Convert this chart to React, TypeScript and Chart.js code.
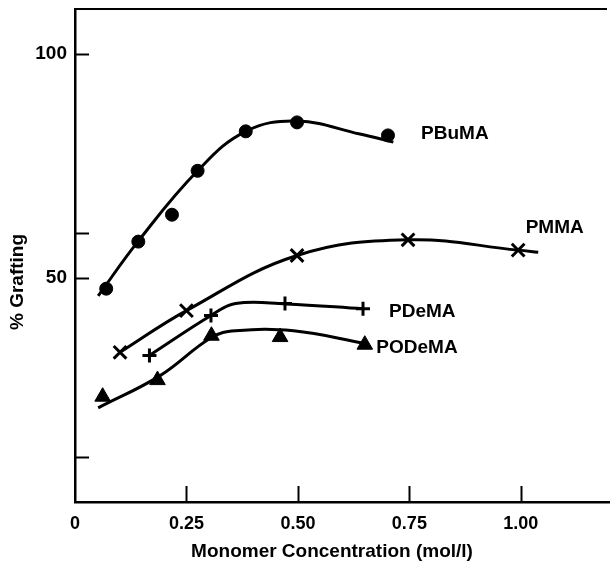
import React, { useEffect, useRef } from "react";
import { Chart, registerables } from "chart.js";

Chart.register(...registerables);

// Axis ticks
const xTickValues = [0, 0.25, 0.5, 0.75, 1.0];
const xTickLabels = ["0", "0.25", "0.50", "0.75", "1.00"];
const yTickValues = [50, 100];
const yTickLabels = ["50", "100"];
const xTickMarks = [0.25, 0.5, 0.75, 1.0];
const yTickMarks = [10, 50, 60, 100];

// Measured points
const pbumaX = [0.07, 0.142, 0.2175, 0.275, 0.383, 0.498, 0.702];
const pbumaY = [47.6, 58.1, 64.1, 73.9, 82.7, 84.7, 81.8];
const pmmaX = [0.101, 0.25, 0.498, 0.747, 0.994];
const pmmaY = [33.4, 42.7, 55.0, 58.5, 56.2];
const pdemaX = [0.167, 0.305, 0.471, 0.646];
const pdemaY = [32.7, 41.6, 44.3, 43.1];
const podemaX = [0.062, 0.185, 0.306, 0.46, 0.65];
const podemaY = [23.5, 27.2, 37.1, 36.8, 35.1];

// Hand-drawn fit curves
const pbumaCurveX = [0.052, 0.141, 0.275, 0.383, 0.498, 0.639, 0.714];
const pbumaCurveY = [46.0, 58.1, 73.9, 82.7, 85.0, 82.1, 80.3];
const pmmaCurveX = [0.101, 0.25, 0.498, 0.747, 0.994, 1.039];
const pmmaCurveY = [33.4, 42.7, 55.0, 58.5, 56.2, 55.7];
const pdemaCurveX = [0.167, 0.305, 0.36, 0.473, 0.646];
const pdemaCurveY = [32.7, 41.6, 44.3, 44.2, 43.1];
const podemaCurveX = [0.052, 0.191, 0.306, 0.36, 0.49, 0.65];
const podemaCurveY = [21.0, 28.2, 36.7, 38.2, 38.2, 35.4];

// Series labels
const labelTexts = ["PBuMA", "PMMA", "PDeMA", "PODeMA"];
const labelX = [0.852, 1.076, 0.779, 0.767];
const labelY = [82.2, 61.2, 42.5, 34.4];

const xTitle = "Monomer Concentration (mol/l)";
const yTitle = "% Grafting";

const FONT = "'Liberation Sans', Arial, Helvetica, sans-serif";

const zip = (xs: number[], ys: number[]) => xs.map((x, i) => ({ x, y: ys[i] }));

const decorPlugin = {
  id: "decor",
  afterDatasetsDraw(chart: any) {
    const { ctx, chartArea, scales } = chart;
    const xs = scales.x;
    const ys = scales.y;
    ctx.save();
    ctx.strokeStyle = "#000";
    ctx.lineWidth = 2;
    // top border
    ctx.beginPath();
    ctx.moveTo(chartArea.left, chartArea.top);
    ctx.lineTo(chartArea.right - 3, chartArea.top);
    ctx.stroke();
    // inward ticks
    xTickMarks.forEach((v) => {
      const px = Math.round(xs.getPixelForValue(v)) + 0.5;
      ctx.beginPath();
      ctx.moveTo(px, chartArea.bottom);
      ctx.lineTo(px, chartArea.bottom - 16);
      ctx.stroke();
    });
    yTickMarks.forEach((v) => {
      const py = Math.round(ys.getPixelForValue(v)) + 0.5;
      ctx.beginPath();
      ctx.moveTo(chartArea.left, py);
      ctx.lineTo(chartArea.left + 14, py);
      ctx.stroke();
    });
    // series labels
    ctx.fillStyle = "#000";
    ctx.font = `bold 19px ${FONT}`;
    ctx.textAlign = "center";
    ctx.textBaseline = "middle";
    labelTexts.forEach((t, i) => {
      ctx.fillText(t, xs.getPixelForValue(labelX[i]), ys.getPixelForValue(labelY[i]));
    });
    // axis titles
    ctx.fillText(xTitle, 332, 552);
    ctx.translate(17.5, 282);
    ctx.rotate(-Math.PI / 2);
    ctx.fillText(yTitle, 0, 0);
    ctx.restore();
  },
};

export default function App() {
  const ref = useRef<HTMLCanvasElement | null>(null);
  useEffect(() => {
    if (!ref.current) return;
    const lineDs = (xs: number[], ys: number[]) => ({
      type: "line" as const,
      data: zip(xs, ys),
      borderColor: "#000",
      borderWidth: 3,
      pointRadius: 0,
      tension: 0.4,
      fill: false,
      order: 2,
    });
    const markDs = (xs: number[], ys: number[], style: string, r: number, bw: number) => ({
      type: "scatter" as const,
      data: zip(xs, ys),
      pointStyle: style,
      pointRadius: r,
      pointBorderWidth: bw,
      pointBackgroundColor: "#000",
      pointBorderColor: "#000",
      showLine: false,
      order: 1,
    });
    const chart = new Chart(ref.current, {
      type: "scatter",
      data: {
        datasets: [
          lineDs(pbumaCurveX, pbumaCurveY),
          lineDs(pmmaCurveX, pmmaCurveY),
          lineDs(pdemaCurveX, pdemaCurveY),
          lineDs(podemaCurveX, podemaCurveY),
          markDs(pbumaX, pbumaY, "circle", 6.5, 1),
          markDs(pmmaX, pmmaY, "crossRot", 9, 3),
          markDs(pdemaX, pdemaY, "cross", 7, 3),
          markDs(podemaX, podemaY, "triangle", 9, 1),
        ] as any,
      },
      plugins: [decorPlugin],
      options: {
        responsive: false,
        animation: false,
        layout: { autoPadding: false, padding: { top: 9, left: 0, right: 0, bottom: 0 } },
        plugins: { legend: { display: false }, tooltip: { enabled: false } },
        scales: {
          x: {
            type: "linear",
            min: 0,
            max: 1.2,
            grid: { display: false, drawTicks: false },
            border: { display: true, color: "#000", width: 2.5 },
            afterBuildTicks: (scale: any) => {
              scale.ticks = xTickValues.map((v) => ({ value: v }));
            },
            afterFit: (scale: any) => {
              scale.height = 63;
              scale.paddingLeft = 0;
              scale.paddingRight = 0;
              scale.paddingTop = 0;
              scale.paddingBottom = 0;
            },
            ticks: {
              autoSkip: false,
              maxRotation: 0,
              padding: 11,
              color: "#000",
              font: { family: FONT, size: 18, weight: "bold" },
              callback: (_v: any, i: number) => xTickLabels[i],
            },
          },
          y: {
            type: "linear",
            min: 0,
            max: 110,
            grid: { display: false, drawTicks: false },
            border: { display: true, color: "#000", width: 2.5 },
            afterBuildTicks: (scale: any) => {
              scale.ticks = yTickValues.map((v) => ({ value: v }));
            },
            afterFit: (scale: any) => {
              scale.width = 75;
              scale.paddingLeft = 0;
              scale.paddingRight = 0;
              scale.paddingTop = 0;
              scale.paddingBottom = 0;
            },
            ticks: {
              autoSkip: false,
              padding: 8,
              color: "#000",
              font: { family: FONT, size: 19, weight: "bold" },
              callback: (_v: any, i: number) => yTickLabels[i],
            },
          },
        },
      } as any,
    });
    return () => chart.destroy();
  }, []);
  return (
    <div style={{ position: "absolute", left: 0, top: 0, width: 610, height: 565, background: "#fff" }}>
      <canvas ref={ref} width={610} height={565} style={{ display: "block" }} />
    </div>
  );
}
